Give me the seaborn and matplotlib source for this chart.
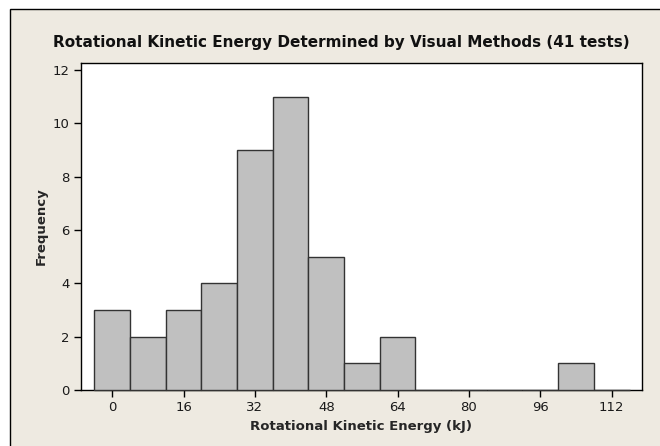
import matplotlib
matplotlib.use("Agg")
import matplotlib.pyplot as plt
import seaborn as sns
import numpy as np
import pandas as pd
from matplotlib.patches import Rectangle

# Data
bin_centers = [0, 8, 16, 24, 32, 40, 48, 56, 64, 72, 80, 88, 96, 104, 112]
frequencies = [3, 2, 3, 4, 9, 11, 5, 1, 2, 0, 0, 0, 0, 1, 0]
x_ticks = [0, 16, 32, 48, 64, 80, 96, 112]
y_ticks = [0, 2, 4, 6, 8, 10, 12]
title = "Rotational Kinetic Energy Determined by Visual Methods (41 tests)"
x_label = "Rotational Kinetic Energy (kJ)"
y_label = "Frequency"

df = pd.DataFrame({"energy": bin_centers, "count": frequencies})

sns.set_theme(style="white")
plt.rcParams['font.family'] = ['DejaVu Sans']

W, H = 660, 446
fig = plt.figure(figsize=(W / 100, H / 100), dpi=100, facecolor="white")
bg = "#EEEAE1"
fig.patches.append(Rectangle((10 / W, -0.1), 1.2, 1 - 9 / H + 0.1,
                             transform=fig.transFigure, facecolor=bg,
                             edgecolor="black", linewidth=1.0, zorder=-10))

ax = fig.add_axes([81 / W, 1 - 390 / H, (642 - 81) / W, (390 - 63) / H])
ax.set_facecolor("white")

sns.histplot(data=df, x="energy", weights="count", binwidth=8,
             binrange=(-4, 116), ax=ax,
             color="#C0C0C0", alpha=1.0, edgecolor="#333333", linewidth=1.0)
for p in ax.patches:
    p.set_zorder(3)
    p.set_clip_on(False)

ax.set_xlim(-7.0, 118.8)
ax.set_ylim(0, 12.26)
ax.set_xticks(x_ticks)
ax.set_yticks(y_ticks)
for s in ax.spines.values():
    s.set_visible(True)
    s.set_color("black")
    s.set_linewidth(1.0)
ax.tick_params(axis="both", which="major", direction="out", length=5, width=1,
               color="black", labelsize=9.5, labelcolor="#1a1a1a", pad=3,
               bottom=True, left=True)
ax.set_xlabel(x_label, fontsize=9.5, fontweight="bold", labelpad=4)
ax.set_ylabel(y_label, fontsize=9.5, fontweight="bold", labelpad=4)

fig.text(341 / W, 1 - 42 / H, title, ha="center", va="center",
         fontsize=11, fontweight="bold", color="#111111")

fig.savefig("out.png", dpi=100, facecolor="white")
